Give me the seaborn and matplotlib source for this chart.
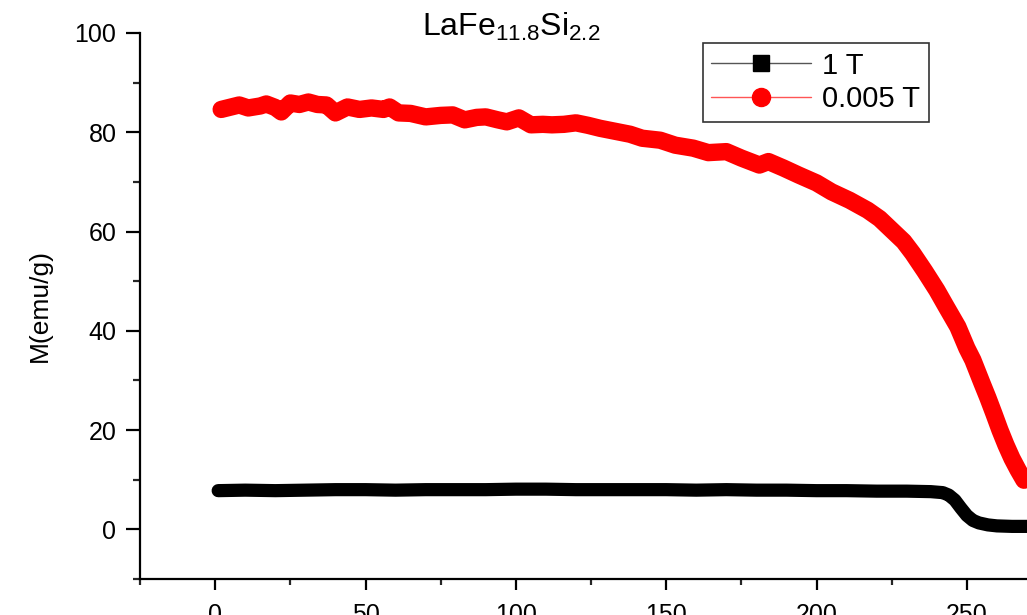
import numpy as np
import pandas as pd
import matplotlib
matplotlib.use("Agg")
import matplotlib.pyplot as plt
from matplotlib.lines import Line2D
from matplotlib.ticker import MultipleLocator
import seaborn as sns

t_red = [2, 4, 8, 11, 15, 17, 20, 22, 25, 28, 31, 34, 37, 40, 44, 48, 52, 56, 58, 61,
         65, 70, 75, 79, 83, 87, 90, 94, 97, 101, 105, 109, 112, 116, 120, 124, 128, 133, 138, 142,
         148, 153, 159, 164, 170, 175, 181, 184, 189, 194, 200, 205, 211, 217, 221, 225, 229, 232, 236, 240,
         243, 247, 250, 252, 255, 257, 259, 261, 263, 265, 267, 269]
m_red = [84.6, 84.9, 85.5, 84.9, 85.3, 85.7, 85.0, 84.1, 85.9, 85.6, 86.1, 85.6, 85.5, 83.9, 85.1, 84.6, 84.9, 84.6, 85.1, 83.9,
         83.8, 83.1, 83.4, 83.5, 82.5, 83.0, 83.1, 82.5, 82.1, 82.9, 81.5, 81.6, 81.5, 81.6, 81.9, 81.4, 80.8, 80.2, 79.6, 78.8,
         78.4, 77.4, 76.8, 75.9, 76.1, 74.8, 73.4, 74.1, 72.8, 71.4, 69.8, 68.0, 66.3, 64.3, 62.6, 60.3, 58.0, 55.6, 52.0, 48.2,
         45.0, 40.8, 36.5, 34.1, 29.5, 26.5, 23.3, 20.0, 17.0, 14.3, 12.0, 9.9]

t_black = [1, 10, 20, 30, 40, 50, 60, 70, 80, 90, 100, 110, 120, 130, 140, 150, 160, 170, 180, 190,
           200, 210, 220, 230, 238, 242, 244, 246, 248, 250, 252, 254, 257, 260, 265, 270]
m_black = [7.8, 7.9, 7.8, 7.9, 8.0, 8.0, 7.9, 8.0, 8.0, 8.0, 8.1, 8.1, 8.0, 8.0, 8.0, 8.0, 7.9, 8.0, 7.9, 7.9,
           7.8, 7.8, 7.7, 7.7, 7.6, 7.4, 6.9, 5.9, 4.3, 2.8, 1.8, 1.3, 0.9, 0.7, 0.6, 0.6]

labels = ["1 T", "0.005 T"]

sns.set_style("ticks")
plt.rcParams["font.family"] = ["Liberation Sans", "DejaVu Sans"]
plt.rcParams["mathtext.fontset"] = "custom"
plt.rcParams["mathtext.rm"] = "Liberation Sans"
plt.rcParams["mathtext.it"] = "Liberation Sans"
plt.rcParams["text.color"] = "black"
plt.rcParams["axes.labelcolor"] = "black"

fig = plt.figure(figsize=(10.27, 6.15), dpi=100)
ax = fig.add_axes([140 / 1027, 36 / 615, 1 - 140 / 1027, (579 - 33) / 615])

sns.lineplot(x=t_black, y=m_black, ax=ax, color="black", linewidth=9.5,
             solid_capstyle="round", solid_joinstyle="round", legend=False)
sns.lineplot(x=t_red, y=m_red, ax=ax, color="#ff0000", linewidth=12.5,
             solid_capstyle="round", solid_joinstyle="round", legend=False)

ax.set_xlim(-25, 270)
ax.set_ylim(-10, 100)
ax.xaxis.set_major_locator(MultipleLocator(50))
ax.xaxis.set_minor_locator(MultipleLocator(25))
ax.yaxis.set_major_locator(MultipleLocator(20))
ax.yaxis.set_minor_locator(MultipleLocator(10))
ax.set_yticks([0, 20, 40, 60, 80, 100])

for side in ["top", "right"]:
    ax.spines[side].set_visible(False)
for side in ["left", "bottom"]:
    ax.spines[side].set_linewidth(1.6)
    ax.spines[side].set_color("black")

ax.tick_params(axis="both", which="major", direction="out", width=1.6, length=10,
               labelsize=18, colors="black", pad=7)
ax.tick_params(axis="both", which="minor", direction="out", width=1.6, length=5)
ax.tick_params(axis="x", which="major", length=8, pad=9)
ax.tick_params(axis="x", which="minor", length=4)

ax.set_xlabel("")
ax.set_ylabel("M(emu/g)", fontsize=19, labelpad=16)

fig.text(511 / 1027, 1 - 27 / 615, r"LaFe$_{11.8}$Si$_{2.2}$", fontsize=23,
         ha="center", va="center")

handles = [
    Line2D([], [], color="#555555", linewidth=1, marker="s", markersize=12,
           markerfacecolor="black", markeredgecolor="black"),
    Line2D([], [], color="#ff5555", linewidth=1, marker="o", markersize=13,
           markerfacecolor="#ff0000", markeredgecolor="#ff0000"),
]
leg = ax.legend(handles, labels, loc="upper right", bbox_to_anchor=(0.8895, 0.982),
                fontsize=21, frameon=True, fancybox=False, shadow=False,
                handlelength=3.4, handletextpad=0.4, borderpad=0.3, labelspacing=0.2,
                borderaxespad=0)
leg.get_frame().set_edgecolor("black")
leg.get_frame().set_linewidth(1.2)

fig.savefig("out.png", dpi=100)
